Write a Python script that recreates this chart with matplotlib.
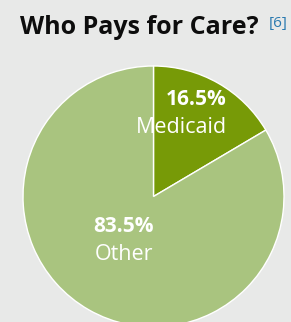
import matplotlib
matplotlib.use("Agg")
import matplotlib.pyplot as plt

plt.rcParams["font.family"] = ["Open Sans", "DejaVu Sans"]

labels = ["Medicaid", "Other"]
shares = [16.5, 83.5]
colors = ["#779a07", "#a9c47f"]
title = "Who Pays for Care?"
ref = "[6]"

W, H = 291, 322
fig = plt.figure(figsize=(W / 100, H / 100), dpi=100, facecolor="#e8e9e8")
ax = fig.add_axes([0, 0, 1, 1])
ax.set_facecolor("#e8e9e8")

# pie in pixel coords (y from bottom)
cx, cy, r = 153.5, H - 196.5, 130.5
ax.pie(shares, colors=colors, startangle=90, counterclock=False,
       center=(cx, cy), radius=r,
       wedgeprops=dict(edgecolor="white", linewidth=1))
ax.set_xlim(0, W); ax.set_ylim(0, H)
ax.set_aspect("equal"); ax.axis("off")

# slice labels
pos = [((196.5, H - 105), (181, H - 133)),
       ((123, H - 231.7), (124, H - 260))]
for (p1, p2), lab, v in zip(pos, labels, shares):
    ax.text(*p1, f"{v:.1f}%", color="white", fontsize=15, fontweight="bold",
            ha="center", va="baseline")
    ax.text(*p2, lab, color="white", fontsize=15.5, ha="center", va="baseline")

fig.text(139 / W, 1 - 34.3 / H, title, fontsize=18, fontweight="bold",
         color="#0d0d0d", ha="center", va="baseline")
fig.text(268.5 / W, 1 - 26.5 / H, ref, fontsize=11, color="#2a7ab0",
         ha="left", va="baseline")

fig.savefig("out.png", dpi=100, facecolor=fig.get_facecolor())
